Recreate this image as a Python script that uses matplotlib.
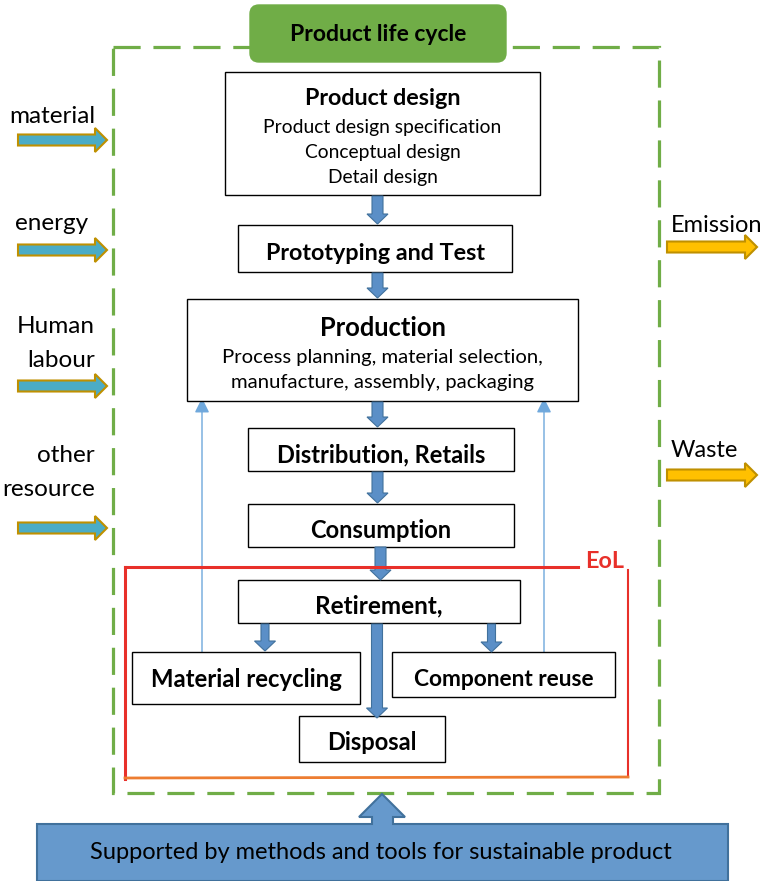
import matplotlib.pyplot as plt
from matplotlib.patches import Rectangle, FancyBboxPatch, FancyArrow, Polygon

plt.rcParams['font.family'] = ['Lato', 'DejaVu Sans']

# labels
title = "Product life cycle"
input_labels = ["material", "energy", "Human\nlabour", "other\nresource"]
output_labels = ["Emission", "Waste"]
stage_titles = ["Product design", "Prototyping and Test", "Production",
                "Distribution, Retails", "Consumption"]
stage_details = [
    ["Product design specification", "Conceptual design", "Detail design"],
    [],
    ["Process planning, material selection,", "manufacture, assembly, packaging"],
    [],
    [],
]
eol_title = "EoL"
eol_stages = ["Retirement,", "Material recycling", "Component reuse", "Disposal"]
support_text = "Supported by methods and tools for sustainable product"

GREEN = '#70AD47'
BLUE = '#5B8FC7'
BLUE_EDGE = '#41719C'


def box(ax, x0, y0, x1, y1):
    ax.add_patch(Rectangle((x0, y0), x1 - x0, y1 - y0, fc='white', ec='black',
                           lw=1.0, zorder=3))


def down_arrow(ax, x, y0, y1, w=11, hw=21, hl=10):
    ax.add_patch(FancyArrow(x, y0, 0, y1 - y0, width=w, head_width=hw, head_length=hl,
                            length_includes_head=True, fc=BLUE, ec=BLUE_EDGE,
                            lw=0.8, zorder=4))


def side_arrow(ax, x0, x1, y, fc, ec):
    ax.add_patch(FancyArrow(x0, y, x1 - x0, 0, width=11, head_width=24, head_length=12,
                            length_includes_head=True, fc=fc, ec=ec, lw=1.5, zorder=4))


fig = plt.figure(figsize=(7.61, 8.81), dpi=100)
ax = fig.add_axes([0, 0, 1, 1])
ax.set_xlim(0, 761)
ax.set_ylim(881, 0)
ax.axis('off')

# dashed life cycle frame
ax.add_patch(Rectangle((113, 47), 546, 746, fill=False, ec=GREEN, lw=2.3,
                       ls=(0, (8.5, 4)), zorder=1))
ax.add_patch(FancyBboxPatch((250, 5), 256, 57, boxstyle="round,pad=0,rounding_size=9",
                            fc=GREEN, ec=GREEN, zorder=5))
ax.text(378, 41, title, ha='center', va='baseline', fontsize=16.5,
        fontweight='bold', zorder=6)

# main stages
stage_boxes = [(225, 72, 540, 195), (238, 225, 512, 272), (187, 299, 578, 401),
               (248, 428, 514, 471), (248, 504, 514, 547)]
title_base = [105, 260, 336, 462, 538]
title_size = [16.8, 16.8, 18.4, 17, 17]
detail_base = [[133, 158, 183], [], [363, 388], [], []]
detail_size = [13.9, 0, 14.6, 0, 0]
for i, (x0, y0, x1, y1) in enumerate(stage_boxes):
    box(ax, x0, y0, x1, y1)
    xc = (x0 + x1) / 2
    ax.text(xc, title_base[i], stage_titles[i], ha='center', va='baseline',
            fontsize=title_size[i], fontweight='bold', zorder=6)
    for line, yb in zip(stage_details[i], detail_base[i]):
        ax.text(xc, yb, line, ha='center', va='baseline', fontsize=detail_size[i],
                zorder=6)

down_arrow(ax, 377.5, 196, 224)
down_arrow(ax, 377.5, 273, 298)
down_arrow(ax, 377.5, 402, 427)
down_arrow(ax, 377.5, 472, 503)
down_arrow(ax, 380.5, 547, 580)

# end of life region
ax.plot([125, 578], [567, 567], color='#E8302A', lw=2.2, zorder=5)
ax.plot([125, 125], [567, 779], color='#E8302A', lw=2.2, zorder=2)
ax.plot([628, 628], [570, 777], color='#E8302A', lw=1.5, zorder=2)
ax.plot([125, 628], [778, 777], color='#ED7D31', lw=2.0, zorder=2)
ax.text(605, 568, eol_title, ha='center', va='baseline', fontsize=16.8,
        fontweight='bold', color='#E8302A', zorder=6)

eol_boxes = [(238, 580, 520, 623), (132, 652, 360, 704), (392, 652, 615, 697),
             (299, 716, 445, 762)]
eol_base = [613, 687, 686, 750]
eol_size = [17.5, 17.2, 16.4, 17]
for i, (x0, y0, x1, y1) in enumerate(eol_boxes):
    box(ax, x0, y0, x1, y1)
    ax.text((x0 + x1) / 2, eol_base[i], eol_stages[i], ha='center', va='baseline',
            fontsize=eol_size[i], fontweight='bold', zorder=6)

down_arrow(ax, 377, 624, 718)
down_arrow(ax, 265, 624, 651, w=8)
down_arrow(ax, 491.5, 624, 652, w=8)

# feedback arrows to production
for x in [202, 544]:
    ax.annotate('', xy=(x, 398), xytext=(x, 652),
                arrowprops=dict(arrowstyle='-|>', color='#6FA8DC', lw=1.0,
                                mutation_scale=22, shrinkA=0, shrinkB=0), zorder=2)

# inputs
input_y = [140, 250, 386, 528]
for lab, y in zip(input_labels, input_y):
    side_arrow(ax, 18, 107, y, '#4BACC6', '#BF9000')
ax.text(52, 123, input_labels[0], ha='center', va='baseline', fontsize=17.5)
ax.text(52, 230, input_labels[1], ha='center', va='baseline', fontsize=17.5)
for lab, yb in zip(input_labels[2:], [333, 462]):
    l1, l2 = lab.split('\n')
    ax.text(95, yb, l1, ha='right', va='baseline', fontsize=17.5)
    ax.text(95, yb + 34, l2, ha='right', va='baseline', fontsize=17.5)

# outputs
for lab, y, yb in zip(output_labels, [247, 475], [232, 457]):
    side_arrow(ax, 667, 757, y, '#FFC000', '#BF9000')
    ax.text(671, yb, lab, ha='left', va='baseline', fontsize=17)

# support block
support_shape = [(37, 881), (37, 824), (372, 824), (372, 817), (359, 817), (382, 794),
                 (405, 817), (393, 817), (393, 824), (728, 824), (728, 881)]
ax.add_patch(Polygon(support_shape, closed=True, fc='#6699CC', ec=BLUE_EDGE, lw=1.5,
                     zorder=5))
ax.text(381, 859, support_text, ha='center', va='baseline', fontsize=17, zorder=6)

fig.savefig('out.png', dpi=100)
